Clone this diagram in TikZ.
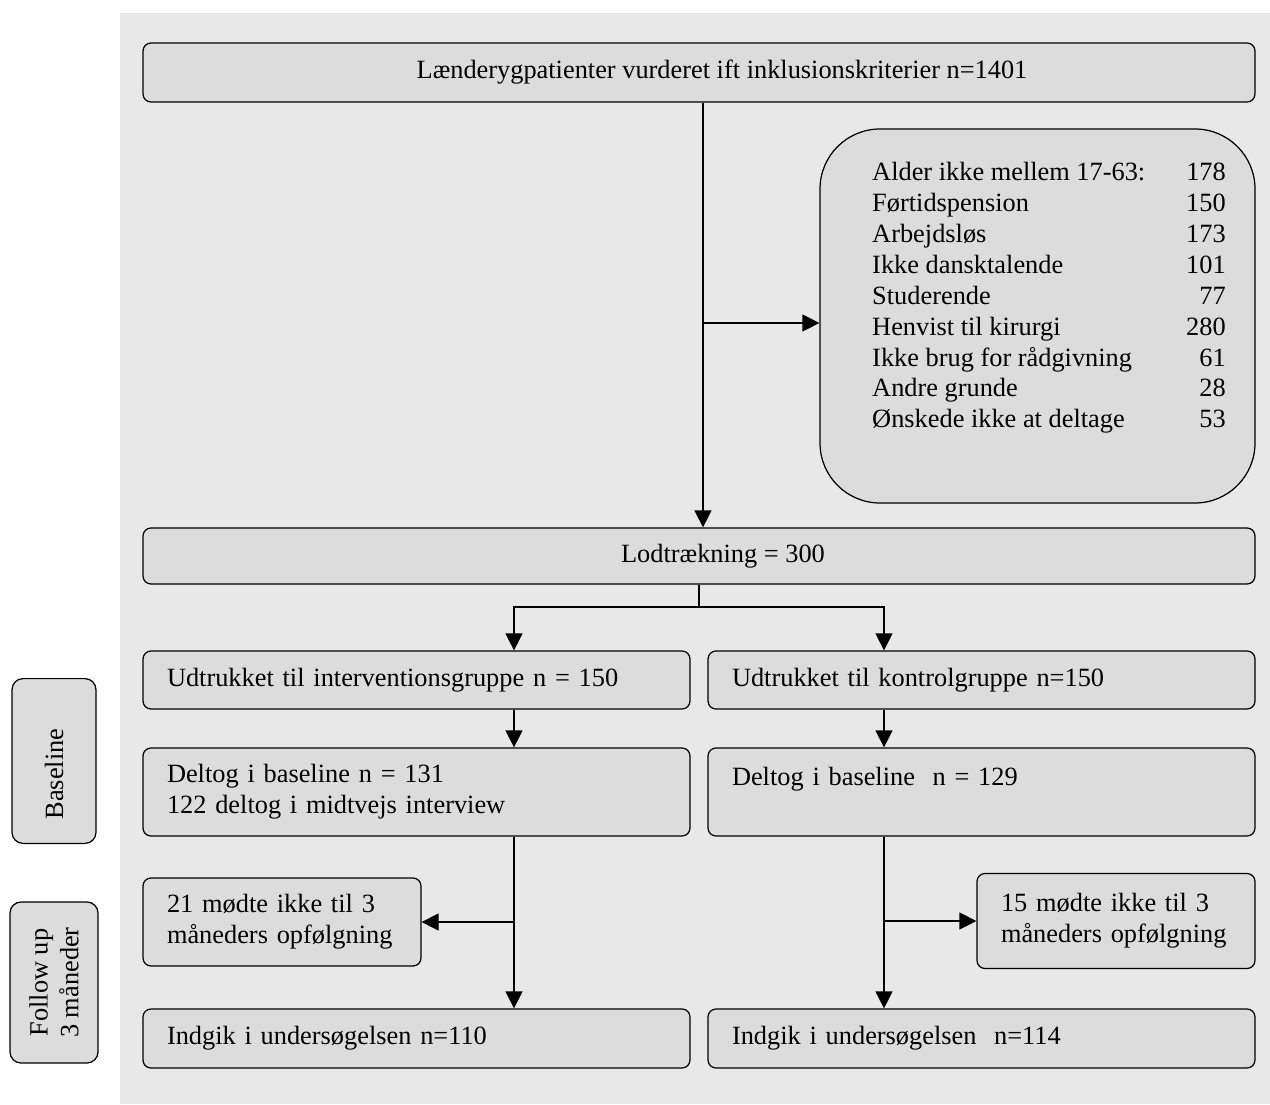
\documentclass[tikz,border=0pt]{standalone}
\usepackage{fontspec}
\setmainfont{Liberation Serif}
\usetikzlibrary{arrows.meta}
\definecolor{panelgray}{gray}{0.91}
\definecolor{boxgray}{gray}{0.863}
\tikzset{
  box/.style={draw, fill=boxgray, line width=0.7pt, rounded corners=0.16cm,
    font=\fontsize{15}{17.6}\selectfont, inner xsep=0.48cm, inner ysep=0pt},
  leftbox/.style={box, align=left, text width=#1},
  midbox/.style={box, align=center, minimum width=22.24cm},
  sidebox/.style={box, rounded corners=0.22cm, rotate=90, align=center},
  arr/.style={line width=0.7pt, -{Triangle[length=0.34cm,width=0.34cm]}},
  link/.style={line width=0.7pt}
}
\begin{document}
\begin{tikzpicture}
\useasboundingbox (0,0) rectangle (25.4,-22.08);
\fill[panelgray] (2.40,-0.26) rectangle (25.4,-22.08);

%screening
\node[midbox, minimum height=1.18cm] (top) at (13.98,-1.45) {\hspace*{0.92cm}Lænderygpatienter vurderet ift inklusionskriterier n=1401};
\node[box, rounded corners=1.2cm, minimum width=8.70cm, minimum height=7.48cm] (excl) at (20.75,-6.32) {%
 \begin{tabular}{@{\hspace{0.46cm}}p{6.28cm}@{}r@{}}
 Alder ikke mellem 17-63: & 178\\
 Førtidspension & 150\\
 Arbejdsløs & 173\\
 Ikke dansktalende & 101\\
 Studerende & 77\\
 Henvist til kirurgi & 280\\
 Ikke brug for rådgivning & 61\\
 Andre grunde & 28\\
 Ønskede ikke at deltage & 53\\[0.72cm]
 \end{tabular}};
\node[midbox, minimum height=1.12cm] (lot) at (13.98,-11.12) {\hspace*{0.96cm}Lodtrækning = 300};

%the two arms
\node[leftbox=9.98cm, minimum height=1.16cm] (int) at (8.33,-13.60) {Udtrukket til interventionsgruppe n = 150};
\node[leftbox=9.98cm, minimum height=1.16cm] (ctl) at (19.63,-13.60) {Udtrukket til kontrolgruppe n=150};
\node[leftbox=9.98cm, minimum height=1.76cm] (bl) at (8.33,-15.84) {Deltog i baseline n = 131\\122 deltog i midtvejs interview};
\node[leftbox=9.98cm, minimum height=1.76cm] (br) at (19.63,-15.84) {Deltog i baseline\ \ n = 129\\\mbox{}};
\node[leftbox=4.60cm, minimum height=1.76cm] (ml) at (5.64,-18.44) {21 mødte ikke til 3\\måneders opfølgning};
\node[leftbox=4.60cm, minimum height=1.90cm] (mr) at (22.32,-18.42) {15 mødte ikke til 3\\måneders opfølgning};
\node[leftbox=9.98cm, minimum height=1.18cm] (il) at (8.33,-20.77) {Indgik i undersøgelsen n=110};
\node[leftbox=9.98cm, minimum height=1.18cm] (ir) at (19.63,-20.77) {Indgik i undersøgelsen\ \ n=114};

%side labels
\node[sidebox, minimum width=3.28cm, minimum height=1.68cm] (sbase) at (1.08,-15.22) {Baseline\hspace*{0.52cm}};
\node[sidebox, minimum width=3.22cm, minimum height=1.76cm] (sfoll) at (1.08,-19.65) {Follow up\\3 måneder};

%arrows
\coordinate (split) at (14.06,-6.46);
\coordinate (forkL) at (10.28,-12.14);
\coordinate (forkR) at (17.68,-12.14);
\draw[arr] (top.south -| split) -- (lot.north -| split);
\draw[arr] (split) -- (excl.west |- split);
\draw[link] (lot.south) -- (lot.south |- forkL);
\draw[arr] (lot.south |- forkL) -| (int.north -| forkL);
\draw[arr] (lot.south |- forkR) -| (ctl.north -| forkR);
\draw[arr] (int.south -| forkL) -- (bl.north -| forkL);
\draw[arr] (ctl.south -| forkR) -- (br.north -| forkR);
\draw[arr] (bl.south -| forkL) -- (il.north -| forkL);
\draw[arr] (br.south -| forkR) -- (ir.north -| forkR);
\draw[arr] (ml.east -| forkL) -- (ml.east);
\draw[arr] (mr.west -| forkR) -- (mr.west);
\end{tikzpicture}
\end{document}
